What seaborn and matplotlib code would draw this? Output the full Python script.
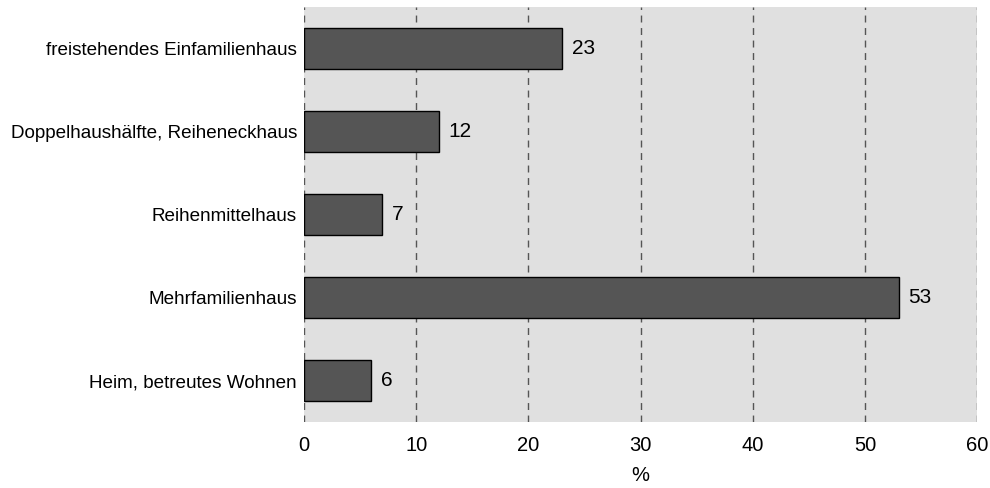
import matplotlib
matplotlib.use("Agg")
import matplotlib.pyplot as plt
import seaborn as sns
import pandas as pd

categories = ["freistehendes Einfamilienhaus", "Doppelhaushälfte, Reiheneckhaus",
              "Reihenmittelhaus", "Mehrfamilienhaus", "Heim, betreutes Wohnen"]
values = [23, 12, 7, 53, 6]
xticks = [0, 10, 20, 30, 40, 50, 60]

sns.set_style("white")
plt.rcParams['font.family'] = ['Liberation Sans', 'DejaVu Sans']
plt.rcParams['text.color'] = 'black'
plt.rcParams['xtick.color'] = 'black'
plt.rcParams['ytick.color'] = 'black'
plt.rcParams['axes.labelcolor'] = 'black'

df = pd.DataFrame({"kategorie": categories, "wert": values})

fig = plt.figure(figsize=(9.9, 4.88), dpi=100)
ax = fig.add_axes([0.307, 0.135, 0.68, 0.851])
ax.set_facecolor("#e0e0e0")

sns.barplot(data=df, x="wert", y="kategorie", orient="h", color="#555555",
            saturation=1, edgecolor="black", linewidth=1, width=0.5, ax=ax, zorder=3)

for i, v in enumerate(values):
    ax.text(v + 0.85, i, str(v), va="center", ha="left", fontsize=15)

ax.set_xlim(0, 60)
ax.set_xticks(xticks)
ax.xaxis.grid(True, linestyle=(0, (5, 4)), color="#555555", linewidth=1)
ax.set_axisbelow(True)
for s in ax.spines.values():
    s.set_visible(False)
ax.tick_params(axis="both", length=0)
ax.tick_params(axis="x", labelsize=14.5, pad=10)
ax.tick_params(axis="y", labelsize=13.6, pad=5)
ax.set_xlabel("%", fontsize=14.5, labelpad=8)
ax.set_ylabel("")

fig.savefig("out.png", dpi=100)
